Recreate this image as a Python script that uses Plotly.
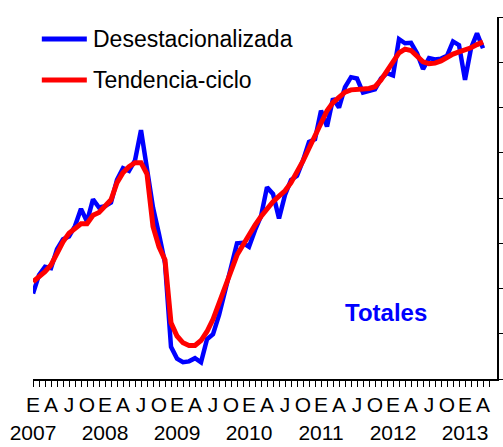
import plotly.graph_objects as go

# Monthly data, Jan 2007 .. Apr 2013 (month index 0..75)
start_year = 2007
desestacionalizada = [
    1.89, 2.30, 2.48, 2.45, 2.87, 3.09, 3.15, 3.38, 3.76, 3.48, 3.97, 3.79,
    3.82, 3.90, 4.40, 4.66, 4.60, 4.83, 5.50, 4.69, 3.79, 3.20, 2.56, 0.71,
    0.45, 0.37, 0.39, 0.46, 0.37, 0.88, 0.99, 1.41, 1.93, 2.48, 3.00, 3.01,
    2.92, 3.29, 3.60, 4.24, 4.09, 3.55, 4.07, 4.40, 4.49, 4.83, 5.24, 5.30,
    5.93, 5.58, 6.20, 6.00, 6.45, 6.67, 6.64, 6.33, 6.36, 6.40, 6.64, 6.76,
    6.71, 7.51, 7.42, 7.43, 7.20, 6.85, 7.09, 7.06, 7.08, 7.14, 7.46, 7.38,
    6.61, 7.31, 7.64, 7.31,
]
tendencia_ciclo = [
    2.15, 2.26, 2.37, 2.52, 2.78, 3.03, 3.22, 3.33, 3.43, 3.43, 3.62, 3.68,
    3.81, 3.96, 4.34, 4.56, 4.69, 4.78, 4.78, 4.53, 3.37, 2.92, 2.63, 1.24,
    0.95, 0.80, 0.74, 0.74, 0.85, 1.05, 1.32, 1.67, 2.00, 2.39, 2.74, 2.96,
    3.20, 3.40, 3.59, 3.76, 3.92, 4.04, 4.16, 4.34, 4.56, 4.82, 5.10, 5.39,
    5.66, 5.93, 6.11, 6.24, 6.34, 6.39, 6.41, 6.41, 6.42, 6.46, 6.61, 6.79,
    7.01, 7.21, 7.29, 7.26, 7.14, 7.01, 6.97, 6.98, 7.03, 7.11, 7.18, 7.23,
    7.27, 7.32, 7.39, 7.45,
]
month_letters = ["E", "A", "J", "O"]
series_names = ["Desestacionalizada", "Tendencia-ciclo"]
series_colors = ["#0000FF", "#FF0000"]

months = list(range(len(desestacionalizada)))
n_ticks = 77
tickvals = list(range(n_ticks))
ticktext = []
for i in tickvals:
    if i % 3 == 0:
        t = month_letters[(i % 12) // 3]
        if i % 12 == 0:
            t += "<br>" + str(start_year + i // 12)
        ticktext.append(t)
    else:
        ticktext.append("")

FONT = "Liberation Sans, Arial, sans-serif"

fig = go.Figure()
fig.add_trace(go.Scatter(x=months, y=desestacionalizada, mode="lines",
                         line=dict(color=series_colors[0], width=4.5),
                         name=series_names[0], showlegend=False))
fig.add_trace(go.Scatter(x=months, y=tendencia_ciclo, mode="lines",
                         line=dict(color=series_colors[1], width=5),
                         name=series_names[1], showlegend=False))

# manual legend
leg_y = [0.939, 0.826]
for k in range(2):
    fig.add_shape(type="line", xref="paper", yref="paper",
                  x0=0.019, x1=0.116, y0=leg_y[k], y1=leg_y[k],
                  line=dict(color=series_colors[k], width=5))
    fig.add_annotation(xref="paper", yref="paper", x=0.126, y=leg_y[k],
                       xanchor="left", yanchor="middle", showarrow=False,
                       text=series_names[k],
                       font=dict(family=FONT, size=23, color="black"))

fig.add_annotation(xref="paper", yref="paper", x=0.76, y=0.185,
                   xanchor="center", yanchor="middle", showarrow=False,
                   text="<b>Totales</b>",
                   font=dict(family=FONT, size=24, color="#0000FF"))

fig.update_layout(
    width=503, height=447,
    margin=dict(l=33, r=6, t=17, b=68, autoexpand=False),
    paper_bgcolor="white", plot_bgcolor="white",
    font=dict(family=FONT, size=21, color="black"),
    xaxis=dict(range=[0, 77.33], showgrid=False, zeroline=False,
               automargin=False,
               showline=True, linewidth=2, linecolor="black",
               ticks="outside", ticklen=6, tickwidth=1, tickcolor="black",
               tickvals=tickvals, ticktext=ticktext, tickangle=0,
               tickfont=dict(family=FONT, size=21, color="black")),
    yaxis=dict(range=[0, 8], side="right", showgrid=False, zeroline=False,
               automargin=False,
               showline=True, linewidth=2, linecolor="black",
               ticks="outside", ticklen=6, tickwidth=1, tickcolor="black",
               tickvals=list(range(9)), showticklabels=False),
)

fig.write_html(
    "out.html",
    config={"displayModeBar": False},
    post_script="document.body.style.margin='0';document.body.style.overflow='hidden';",
)
